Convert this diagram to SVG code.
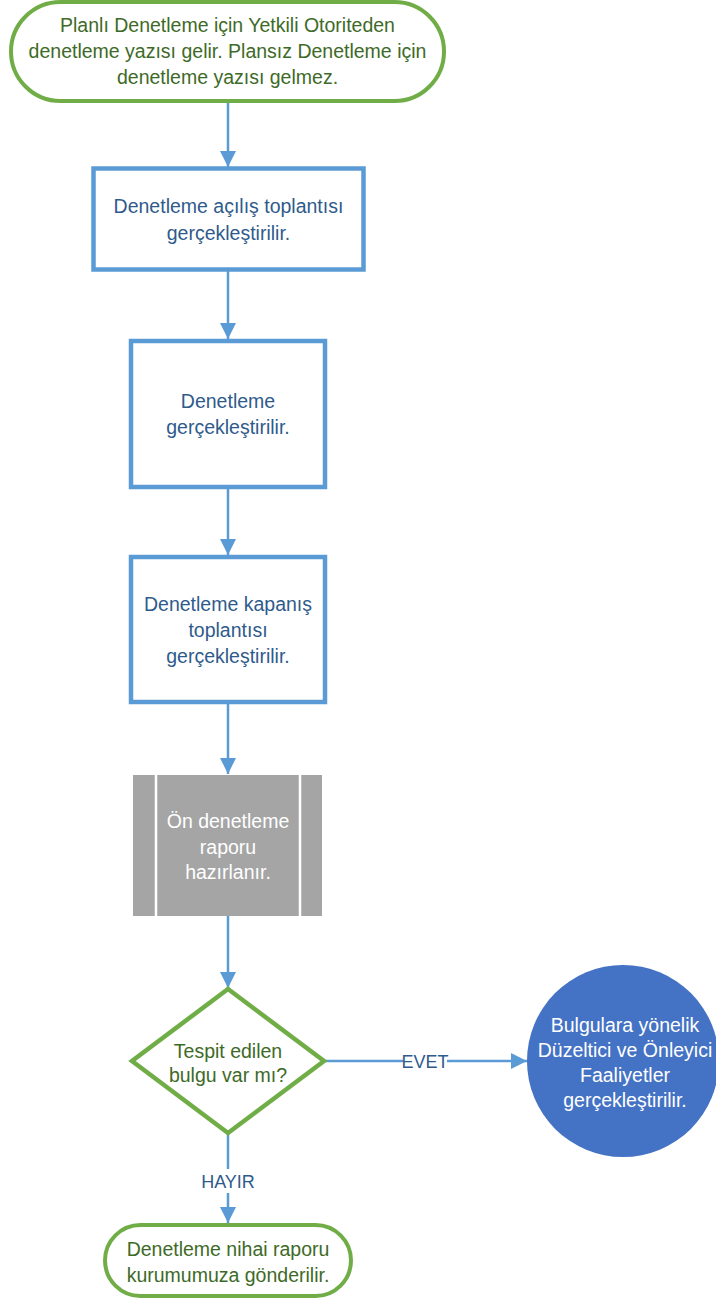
<svg xmlns="http://www.w3.org/2000/svg" width="716" height="1302" viewBox="0 0 716 1302">
<style>
text{font-family:"Liberation Sans",Arial,sans-serif;font-size:19.5px;text-anchor:middle}
.term{fill:#fff;stroke:#70AD47;stroke-width:4}
.gtxt{fill:#3E6A28}
.box{fill:#fff;stroke:#5B9BD5;stroke-width:4.5}
.btxt{fill:#2F5B8C}
.wtxt{fill:#fff}
.conn{stroke:#5B9BD5;stroke-width:2.5;fill:none}
.lbl{font-size:18px;fill:#2F5B8C}
</style>
<defs>
<marker id="arr" markerUnits="userSpaceOnUse" markerWidth="16" markerHeight="16" refX="16" refY="8" orient="auto">
<path d="M0,0 L16,8 L0,16 z" fill="#5B9BD5"/>
</marker>
</defs>
<rect width="716" height="1302" fill="#fff"/>
<g id="connectors">
<line class="conn" x1="228" y1="101" x2="228" y2="167" marker-end="url(#arr)"/>
<line class="conn" x1="228" y1="270" x2="228" y2="339" marker-end="url(#arr)"/>
<line class="conn" x1="228" y1="489" x2="228" y2="555" marker-end="url(#arr)"/>
<line class="conn" x1="228" y1="702" x2="228" y2="774" marker-end="url(#arr)"/>
<line class="conn" x1="228" y1="916" x2="228" y2="988" marker-end="url(#arr)"/>
<line class="conn" x1="324" y1="1061" x2="527" y2="1061" marker-end="url(#arr)"/>
<rect x="403" y="1050" width="44" height="22" fill="#fff"/>
<text class="lbl" x="425" y="1068">EVET</text>
<line class="conn" x1="228" y1="1133" x2="228" y2="1223" marker-end="url(#arr)"/>
<rect x="199" y="1169" width="58" height="24" fill="#fff"/>
<text class="lbl" x="228" y="1188">HAYIR</text>
</g>
<g id="start">
<rect class="term" x="11" y="2" width="433" height="99" rx="49.5"/>
<text class="gtxt" x="227.5" y="32">Planlı Denetleme için Yetkili Otoriteden</text>
<text class="gtxt" x="227.5" y="58">denetleme yazısı gelir. Plansız Denetleme için</text>
<text class="gtxt" x="227.5" y="84">denetleme yazısı gelmez.</text>
</g>
<g id="acilis">
<rect class="box" x="93.5" y="168.5" width="270" height="101"/>
<text class="btxt" x="228.5" y="213">Denetleme açılış toplantısı</text>
<text class="btxt" x="228.5" y="240">gerçekleştirilir.</text>
</g>
<g id="denetleme">
<rect class="box" x="131" y="341" width="194" height="146"/>
<text class="btxt" x="228" y="408">Denetleme</text>
<text class="btxt" x="228" y="434">gerçekleştirilir.</text>
</g>
<g id="kapanis">
<rect class="box" x="131" y="557" width="194" height="145"/>
<text class="btxt" x="228" y="611">Denetleme kapanış</text>
<text class="btxt" x="228" y="637">toplantısı</text>
<text class="btxt" x="228" y="663">gerçekleştirilir.</text>
</g>
<g id="onrapor">
<rect x="133" y="775" width="189" height="141" fill="#A5A5A5"/>
<line x1="156" y1="775" x2="156" y2="916" stroke="#fff" stroke-width="2.5"/>
<line x1="300" y1="775" x2="300" y2="916" stroke="#fff" stroke-width="2.5"/>
<text class="wtxt" x="228" y="828">Ön denetleme</text>
<text class="wtxt" x="228" y="854">raporu</text>
<text class="wtxt" x="228" y="879">hazırlanır.</text>
</g>
<g id="karar">
<polygon points="228,989 324,1061 228,1133 132,1061" fill="#fff" stroke="#70AD47" stroke-width="4.5" stroke-linejoin="miter"/>
<text class="gtxt" x="228" y="1058">Tespit edilen</text>
<text class="gtxt" x="228" y="1082">bulgu var mı?</text>
</g>
<g id="duzeltici">
<circle cx="623" cy="1061" r="96" fill="#4472C4"/>
<text class="wtxt" x="625" y="1032">Bulgulara yönelik</text>
<text class="wtxt" x="625" y="1057">Düzeltici ve Önleyici</text>
<text class="wtxt" x="625" y="1082">Faaliyetler</text>
<text class="wtxt" x="625" y="1107">gerçekleştirilir.</text>
</g>
<g id="nihai">
<rect class="term" x="105" y="1225" width="246" height="71" rx="35.5"/>
<text class="gtxt" x="228" y="1256">Denetleme nihai raporu</text>
<text class="gtxt" x="228" y="1282">kurumumuza gönderilir.</text>
</g>
</svg>
